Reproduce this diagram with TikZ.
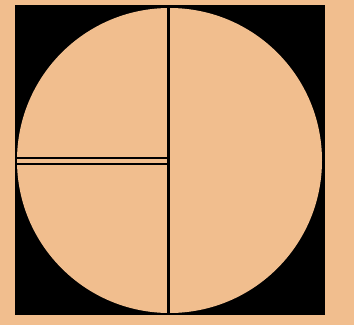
\documentclass[tikz,border=0pt]{standalone}
\definecolor{tan}{RGB}{241,190,142}
\begin{document}
\begin{tikzpicture}[x=1pt,y=-1pt,
  divider/.style={line width=2pt,draw=black}]
\fill[tan] (0,0) rectangle (354,325);
\useasboundingbox (0,0) rectangle (354,325);
\fill[black] (15,5) rectangle (325,315);
\fill[tan] (169.5,160.5) circle[radius=152.5];
\draw[divider,line width=3pt] (168.5,5) -- (168.5,315);
\draw[divider] (16,157.5) -- (168.5,157.5);
\draw[divider] (16,163.5) -- (168.5,163.5);
\end{tikzpicture}
\end{document}
